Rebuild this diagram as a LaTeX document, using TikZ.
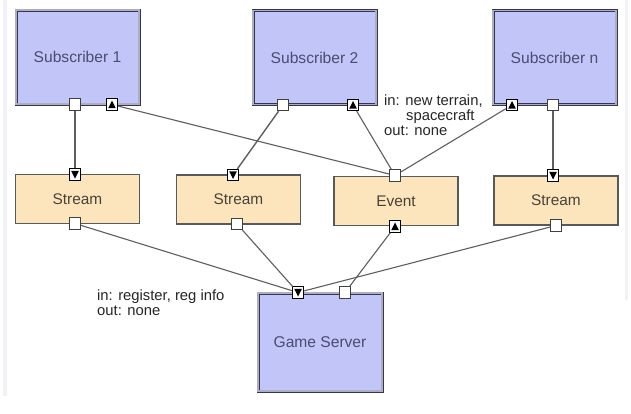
\documentclass[tikz,border=0pt]{standalone}
\usepackage{fontspec}
\setmainfont{Liberation Sans}
\definecolor{subfill}{HTML}{C2C5F7}
\definecolor{subtext}{HTML}{4A4C72}
\definecolor{strfill}{HTML}{FCE4BC}
\definecolor{strtext}{HTML}{4A4236}
\definecolor{wire}{HTML}{5E5E62}
\definecolor{edgegray}{HTML}{F1F2F7}
\tikzset{
  subbox/.style={draw=subtext!70!black, double=subtext!45!white, double distance=1.4pt, line width=0.8pt,
    fill=subfill, minimum width=123pt, minimum height=94pt, inner sep=0pt, text=subtext,
    font=\fontsize{15.6}{17}\selectfont},
  strbox/.style={draw=black!65, line width=1.1pt, fill=strfill, minimum width=124pt, minimum height=49pt,
    inner sep=0pt, text=strtext, font=\fontsize{15.4}{17}\selectfont},
  port/.style={draw=black!75, line width=0.8pt, fill=white, minimum size=11.5pt, inner sep=0pt},
  portup/.style={port, draw=black, path picture={\fill[black, shift={(path picture bounding box.center)}] (-3.8,3.6) -- (3.8,3.6) -- (0,-4) -- cycle;}},
  portdown/.style={port, draw=black, path picture={\fill[black, shift={(path picture bounding box.center)}] (-3.8,-3.6) -- (3.8,-3.6) -- (0,4) -- cycle;}},
  wireline/.style={draw=wire, line width=1.1pt},
  lbl/.style={align=left, inner sep=0pt, text=black!85, font=\fontsize{14.8}{15}\selectfont},
}
\begin{document}
\begin{tikzpicture}[x=1pt,y=-1pt]
\useasboundingbox (0,0) rectangle (631,413);
\fill[white] (0,0) rectangle (631,413);
\fill[edgegray] (3,0) rectangle (7,396);
\fill[edgegray] (625,0) rectangle (628,300);
% boxes
\node[subbox] (s1) at (77.5,57) {Subscriber 1};
\node[subbox] (s2) at (314.5,57.5) {Subscriber 2};
\node[subbox] (sn) at (554.5,57.5) {Subscriber n};
\node[strbox] (st1) at (77.5,199) {Stream};
\node[strbox] (st2) at (238.5,199.5) {Stream};
\node[strbox] (ev) at (396,201) {Event};
\node[strbox] (st3) at (556,200.5) {Stream};
\node[subbox, minimum width=124pt, minimum height=98pt] (gs) at (320,342) {Game Server};
% ports
\node[port] (s1o) at (75,104.5) {};
\node[portup] (s1i) at (112,104.5) {};
\node[port] (s2o) at (283,105) {};
\node[portup] (s2i) at (353,105) {};
\node[portup] (sni) at (512,105) {};
\node[port] (sno) at (553,105) {};
\node[portdown] (st1i) at (75,174.5) {};
\node[port] (st1o) at (75,223.5) {};
\node[portdown] (st2i) at (233,175) {};
\node[port] (st2o) at (237,224) {};
\node[port] (evi) at (395,175.5) {};
\node[portup] (evo) at (395,226.5) {};
\node[portdown] (st3i) at (553,175.5) {};
\node[port] (st3o) at (556,225.5) {};
\node[portdown] (gsi) at (298,292.5) {};
\node[port] (gse) at (345,292.5) {};
% connectors
\draw[wireline, line width=1.6pt] (s1o) -- (st1i);
\draw[wireline] (s1i) -- (evi);
\draw[wireline, line width=1.4pt] (s2o) -- (st2i);
\draw[wireline] (s2i) -- (evi);
\draw[wireline] (sni) -- (evi);
\draw[wireline, line width=1.6pt] (sno) -- (st3i);
\draw[wireline] (st1o) -- (gsi);
\draw[wireline] (st2o) -- (gsi);
\draw[wireline] (st3o) -- (gsi);
\draw[wireline] (evo) -- (gse);
% labels
\node[lbl, anchor=north west] (l1) at (384,95) {in: new terrain,\\\hspace{22pt}spacecraft\\out: none};
\node[lbl, anchor=north west] (l2) at (97,290) {in: register, reg info\\out: none};
\end{tikzpicture}
\end{document}
